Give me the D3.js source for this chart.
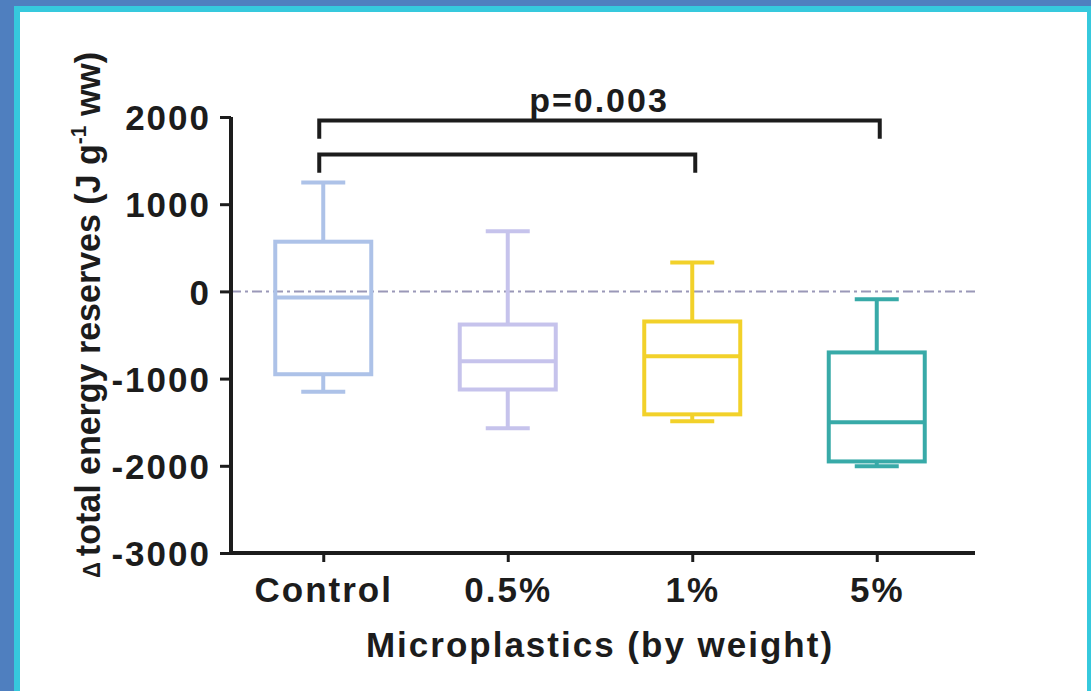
<html>
  <head>
    <meta charset="utf-8">
    <style>
      body { margin: 0; background: #4f7fbf; }
      text { font-family: "Liberation Sans", Arial, sans-serif; }
    </style>
  </head>
  <body>
    <svg id="chart" width="1091" height="691"></svg>
    <script type="text/javascript" src="https://cdnjs.cloudflare.com/ajax/libs/d3/7.8.5/d3.min.js"></script>
    <script type="text/javascript">
// groups and box summaries (J g-1 ww)
var groups = ['Control', '0.5%', '1%', '5%'];
var whiskerHigh = [1250, 690, 330, -90];
var q3 = [570, -380, -345, -700];
var medians = [-70, -800, -745, -1500];
var q1 = [-950, -1125, -1410, -1950];
var whiskerLow = [-1150, -1570, -1490, -2005];
var colors = ['#adc2e8', '#c6c3ec', '#f2d12a', '#38aaa8'];

var yTicks = [2000, 1000, 0, -1000, -2000, -3000];

// significance brackets: [from group, to group, level]
var brackets = [['Control', '5%', 1960], ['Control', '1%', 1570]];
var pLabel = 'p=0.003';

var svg = d3.select('#chart');

// frame around the figure
svg.append('rect').attr('x', 0).attr('y', 0).attr('width', 1091).attr('height', 691).attr('fill', '#4f7fbf');
svg.append('rect').attr('x', 14).attr('y', 6).attr('width', 1077).attr('height', 685).attr('fill', '#36c9dd');
svg.append('rect').attr('x', 20).attr('y', 12).attr('width', 1067).attr('height', 679).attr('fill', '#ffffff');

var x = d3.scalePoint().domain(groups).range([231, 969]).padding(0.5);
var y = d3.scaleLinear().domain([-3000, 2000]).range([553, 117]);

// dashed zero line
svg.append('line')
    .attr('x1', 231).attr('x2', 975)
    .attr('y1', y(0)).attr('y2', y(0))
    .attr('stroke', '#9a98b8').attr('stroke-width', 2)
    .attr('stroke-dasharray', '10,4,3,4');

var boxW = 96, capW = 44;
var box = svg.append('g').selectAll('g').data(groups).enter().append('g');

box.each(function(d, i) {
  var g = d3.select(this), cx = x(d), c = colors[i];
  g.append('line').attr('x1', cx).attr('x2', cx).attr('y1', y(whiskerHigh[i])).attr('y2', y(q3[i]))
      .attr('stroke', c).attr('stroke-width', 4);
  g.append('line').attr('x1', cx).attr('x2', cx).attr('y1', y(q1[i])).attr('y2', y(whiskerLow[i]))
      .attr('stroke', c).attr('stroke-width', 4);
  g.append('line').attr('x1', cx - capW / 2).attr('x2', cx + capW / 2).attr('y1', y(whiskerHigh[i])).attr('y2', y(whiskerHigh[i]))
      .attr('stroke', c).attr('stroke-width', 4);
  g.append('line').attr('x1', cx - capW / 2).attr('x2', cx + capW / 2).attr('y1', y(whiskerLow[i])).attr('y2', y(whiskerLow[i]))
      .attr('stroke', c).attr('stroke-width', 4);
  g.append('rect').attr('x', cx - boxW / 2).attr('width', boxW)
      .attr('y', y(q3[i])).attr('height', y(q1[i]) - y(q3[i]))
      .attr('fill', 'none').attr('stroke', c).attr('stroke-width', 4);
  g.append('line').attr('x1', cx - boxW / 2).attr('x2', cx + boxW / 2).attr('y1', y(medians[i])).attr('y2', y(medians[i]))
      .attr('stroke', c).attr('stroke-width', 4);
});

// axes
var yAxis = svg.append('g').attr('transform', 'translate(231,0)')
    .call(d3.axisLeft(y).tickValues(yTicks).tickSize(11).tickPadding(9)
      .tickFormat(function(d) { return String(d); }));
var xAxis = svg.append('g').attr('transform', 'translate(0,553)')
    .call(d3.axisBottom(x).tickSize(9).tickPadding(14));
xAxis.select('.domain').attr('d', 'M231,0H975');
yAxis.select('.domain').attr('d', 'M0,' + y(2000) + 'V' + y(-3000));

[xAxis, yAxis].forEach(function(a) {
  a.select('.domain').attr('stroke', '#1c1c1c').attr('stroke-width', 4);
  a.selectAll('.tick line').attr('stroke', '#1c1c1c').attr('stroke-width', 3);
  a.selectAll('.tick text')
      .attr('fill', '#1c1c1c')
      .style('font-size', '35px').style('font-weight', 'bold').style('letter-spacing', '2px')
      .style('font-family', '"Liberation Sans", Arial, sans-serif');
});
yAxis.selectAll('.tick text').attr('dy', '0.36em');
xAxis.selectAll('.tick text').attr('dy', '0.75em');

// brackets
brackets.forEach(function(b) {
  var x1 = x(b[0]) - 4, x2 = x(b[1]) + 3, yy = y(b[2]), drop = y(b[2] - 210);
  svg.append('path')
      .attr('d', 'M' + x1 + ',' + drop + 'V' + yy + 'H' + x2 + 'V' + drop)
      .attr('fill', 'none').attr('stroke', '#1c1c1c').attr('stroke-width', 4);
});
svg.append('text').attr('x', 599).attr('y', 112)
    .attr('text-anchor', 'middle')
    .style('font-size', '34px').style('font-weight', 'bold').style('letter-spacing', '2px')
    .attr('fill', '#1c1c1c')
    .text(pLabel);

// axis titles
svg.append('text').attr('x', 600).attr('y', 657)
    .attr('text-anchor', 'middle')
    .style('font-size', '35px').style('font-weight', 'bold').style('letter-spacing', '2px')
    .attr('fill', '#1c1c1c')
    .text('Microplastics (by weight)');

var yt = svg.append('text')
    .attr('transform', 'translate(100,315) rotate(-90) scale(1,1.05)')
    .attr('text-anchor', 'middle')
    .style('font-size', '34px').style('font-weight', 'bold')
    .attr('fill', '#1c1c1c');
yt.append('tspan').style('font-size', '22px').text('\u0394 ');
yt.append('tspan').text('total energy reserves (J g');
yt.append('tspan').attr('dy', -13).style('font-size', '21px').text('-1');
yt.append('tspan').attr('dy', 13).text(' ww)');
    </script>
  </body>
</html>
